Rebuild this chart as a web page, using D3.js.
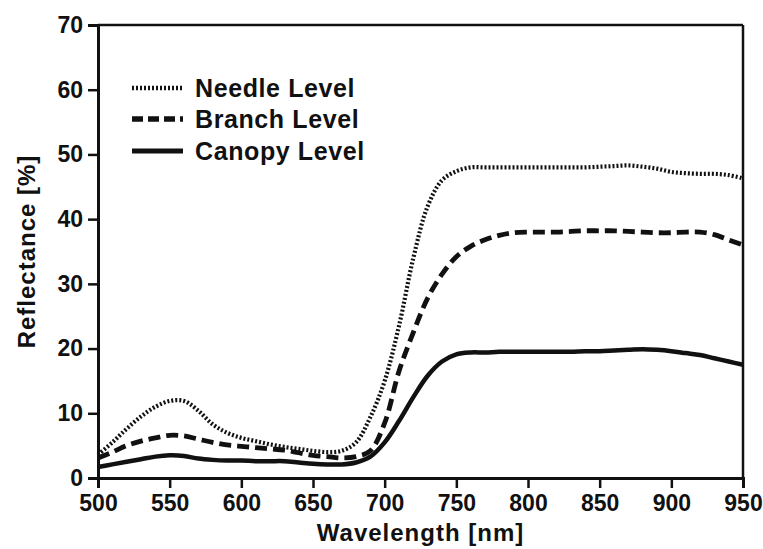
<!DOCTYPE html>
<html>
<head>
<meta charset="utf-8">
<script src="https://cdn.jsdelivr.net/npm/d3@7"></script>
<style>
  body { margin: 0; background: #fff; }
  svg { display: block; }
  text { font-family: "Liberation Sans", Arial, sans-serif; font-weight: bold; fill: #111; }
</style>
</head>
<body>
<svg id="chart" width="763" height="549"></svg>
<script>
const wavelengths = [500,510,520,530,540,550,560,570,580,590,600,610,620,630,640,650,660,670,680,690,700,710,720,730,740,750,760,770,780,790,800,810,820,830,840,850,860,870,880,890,900,910,920,930,940,950];
const needle = [3.6,5.5,7.6,9.5,11.0,11.9,11.9,10.4,8.3,7.0,6.2,5.7,5.2,4.8,4.5,4.2,4.0,4.2,5.5,9.4,15.0,23.5,34.0,42.0,46.0,47.4,48.0,48.0,48.0,48.0,48.0,48.0,48.0,48.0,48.0,48.1,48.2,48.3,48.1,47.8,47.3,47.1,47.0,47.0,46.8,46.3];
const branch = [3.1,4.0,5.0,5.7,6.2,6.6,6.5,6.0,5.5,5.1,4.9,4.7,4.5,4.3,3.9,3.5,3.3,3.1,3.3,4.2,8.5,16.5,22.5,27.8,31.5,34.2,35.8,36.8,37.5,37.9,38.0,38.0,38.0,38.1,38.2,38.2,38.2,38.1,38.0,37.9,37.9,38.0,38.0,37.6,36.8,36.0];
const canopy = [1.7,2.1,2.5,2.9,3.3,3.5,3.4,3.0,2.8,2.7,2.7,2.6,2.6,2.6,2.4,2.2,2.1,2.1,2.4,3.3,5.5,8.8,12.5,15.8,18.0,19.1,19.4,19.4,19.5,19.5,19.5,19.5,19.5,19.5,19.6,19.6,19.7,19.8,19.9,19.8,19.6,19.3,19.0,18.5,18.0,17.5];
const seriesNames = ["Needle Level","Branch Level","Canopy Level"];
const xTicks = [500,550,600,650,700,750,800,850,900,950];
const yTicks = [0,10,20,30,40,50,60,70];

const styles = [
  {w: 4.2, dash: "2,2"},
  {w: 4.8, dash: "12,6"},
  {w: 4.5, dash: null}
];

const svg = d3.select("#chart");
const m = {l: 98, r: 743, t: 25, b: 478};
const x = d3.scaleLinear().domain([500, 950]).range([m.l, m.r]);
const y = d3.scaleLinear().domain([0, 70]).range([m.b, m.t]);

// frame (top and right)
svg.append("line").attr("x1", m.l).attr("x2", m.r).attr("y1", m.t).attr("y2", m.t)
  .attr("stroke", "#111").attr("stroke-width", 2.5);
svg.append("line").attr("x1", m.r).attr("x2", m.r).attr("y1", m.t).attr("y2", m.b)
  .attr("stroke", "#111").attr("stroke-width", 2.5);

const xAxis = svg.append("g").attr("transform", `translate(0,${m.b})`)
  .call(d3.axisBottom(x).tickValues(xTicks).tickSize(10).tickPadding(6).tickFormat(d3.format("d")));
const yAxis = svg.append("g").attr("transform", `translate(${m.l},0)`)
  .call(d3.axisLeft(y).tickValues(yTicks).tickSize(10).tickPadding(5).tickFormat(d3.format("d")));
[xAxis, yAxis].forEach(g => {
  g.select(".domain").attr("stroke", "#111").attr("stroke-width", 3);
  g.selectAll(".tick line").attr("stroke", "#111").attr("stroke-width", 2.5);
  g.selectAll(".tick text").style("font-size", "23px").style("font-family", "Liberation Sans, Arial, sans-serif")
    .style("font-weight", "bold").attr("fill", "#111");
});
xAxis.selectAll(".tick text").attr("dy", "0.75em");

const line = d3.line().x((d, i) => x(wavelengths[i])).y(d => y(d)).curve(d3.curveCatmullRom.alpha(0.5));
[needle, branch, canopy].forEach((s, k) => {
  svg.append("path").datum(s).attr("d", line).attr("fill", "none")
    .attr("stroke", "#111").attr("stroke-width", styles[k].w)
    .attr("stroke-dasharray", styles[k].dash);
});

// legend
const legY = [88, 119, 151];
seriesNames.forEach((n, k) => {
  svg.append("line").attr("x1", 132).attr("x2", 183).attr("y1", legY[k]).attr("y2", legY[k])
    .attr("stroke", "#111").attr("stroke-width", styles[k].w + 0.5)
    .attr("stroke-dasharray", k === 1 ? "11,5" : styles[k].dash);
  svg.append("text").attr("x", 195).attr("y", legY[k]).attr("dy", "0.36em")
    .style("font-size", "25px").style("letter-spacing", "0.6px").text(n);
});

// axis titles
svg.append("text").attr("x", (m.l + m.r) / 2).attr("y", 541).attr("text-anchor", "middle")
  .style("font-size", "24px").style("letter-spacing", "1px").text("Wavelength [nm]");
svg.append("text").attr("transform", `translate(35,${(m.t + m.b) / 2}) rotate(-90)`)
  .attr("text-anchor", "middle").style("font-size", "24px").style("letter-spacing", "1px").text("Reflectance [%]");
</script>
</body>
</html>
